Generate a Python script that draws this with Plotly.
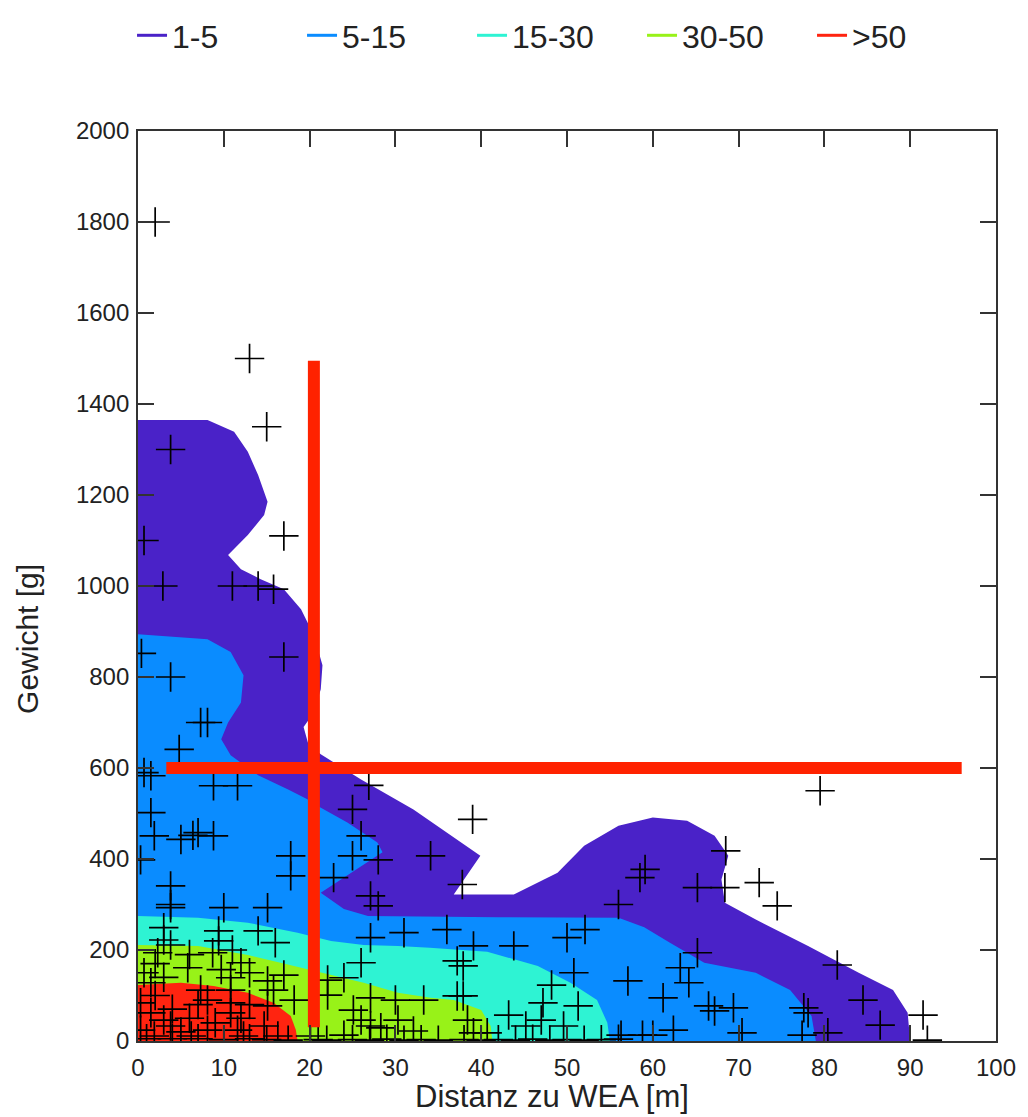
import plotly.graph_objects as go

# ---------------- data ----------------
level_names = ["1-5", "5-15", "15-30", "30-50", ">50"]
level_colors = ["#4A22C8", "#0A8CFF", "#2EF3D3", "#98F218", "#FF2410"]

# contour region outlines (Distanz [m], Gewicht [g])
c1_x = [0, 0, 8.1, 11.2, 12.8, 14.0, 15.1, 14.7, 12.8, 10.5, 12.0, 14.3, 17.0, 19.0, 20.5, 21.5,
        21.3, 20.5, 19.3, 19.8, 21.3, 26.0, 32.1, 39.9, 36.8, 43.8, 48.9, 52.0, 56.0, 60.0,
        64.0, 67.2, 68.8, 68.0, 68.4, 72.0, 78.1, 84.0, 88.0, 89.7, 90.0]
c1_y = [0, 1365, 1365, 1339, 1295, 1244, 1185, 1156, 1112, 1068, 1037, 1015, 993, 949, 892, 826,
        773, 722, 690, 656, 630, 575, 509, 407, 322, 322, 370, 429, 473, 491,
        484, 451, 407, 355, 304, 267, 209, 150, 112, 62, 0]

c2_x = [0, 0, 8.1, 10.8, 12.3, 12.0, 10.5, 9.7, 10.8, 14.0, 17.5, 19.8, 20.9, 24.4, 27.9, 28.5,
        21.3, 24.0, 26.8, 42.0, 56.0, 59.0, 62.0, 66.0, 72.0, 76.0, 78.5, 79.0]
c2_y = [0, 894, 883, 855, 804, 744, 700, 663, 628, 584, 553, 531, 517, 480, 436, 415,
        326, 290, 275, 272, 271, 250, 216, 172, 150, 112, 55, 0]

c3_x = [0, 0, 7.0, 12.8, 18.6, 22.5, 26.3, 30.3, 34.0, 40.7, 46.6, 50.4, 53.5, 54.7, 55.0]
c3_y = [0, 275, 271, 260, 238, 220, 211, 209, 205, 196, 165, 128, 90, 40, 0]

c4_x = [0, 0, 7.0, 12.8, 16.6, 22.5, 26.3, 30.3, 34.1, 36.8, 40.0, 41.1, 41.3]
c4_y = [0, 211, 209, 189, 172, 145, 128, 106, 95, 90, 68, 33, 0]

c5_x = [0, 0, 5.0, 8.8, 12.8, 15.8, 17.8, 18.4, 18.6]
c5_y = [0, 123, 128, 121, 106, 84, 55, 24, 0]

region_x = [c1_x, c2_x, c3_x, c4_x, c5_x]
region_y = [c1_y, c2_y, c3_y, c4_y, c5_y]

# individual finds (Distanz [m], Gewicht [g])
pts_x = [2, 13, 15, 3.8, 0.7, 17, 2.9, 11, 14, 15.8, 17, 0.4, 3.8, 7.3, 8.1, 4.8, 0.7, 1.5, 8.8, 11.6,
         1.5, 1.9, 5, 6.4, 7, 8.8, 17.8, 17.8, 0.3, 3.8, 3.8,
         26.9, 25, 26, 25, 28, 22.8, 34.1, 39, 37.8, 27.1, 28, 27.1, 31, 36, 39.1, 43.8, 50, 52.1, 56,
         79.5, 68.5, 59.1, 58.5, 65.2, 68.4, 72.4, 74.5, 65.2, 81.5, 63.2, 64.2, 50.8, 48.2, 57.1,
         47.2, 51.3, 61.2, 66.5, 67.2, 69.4, 77.6, 78.1, 84.5, 86.5, 91.5, 92, 77.4, 80.4, 70.4, 62.4,
         56.3, 58.8, 60, 43.2, 45.2, 37.2, 37.9, 37.2, 37.9, 33.3, 47, 49.6, 38.4, 39.1, 40.7,
         26, 22.1, 24, 22.1, 27.1, 30, 25.1, 26, 27.1, 28.3, 30.3, 32.1, 24,
         3.8, 10, 15.1, 3, 3, 2.3, 3.8, 9.4, 9.4, 8.7, 14, 16, 5.8, 0.7, 1.5, 9.7, 10.8, 10.8, 12,
         15.1, 17, 15.8, 18.2, 15.1, 7.3, 8.1, 10.8, 10.8, 0.3, 1.5, 3, 3.8, 0.3, 1.9, 6.2, 8.1,
         11.6, 12.3, 14.7, 16.3, 17.5, 20.1,
         2, 4, 5, 6, 7, 9, 12, 13, 2, 6, 1, 4, 7, 10, 13, 15, 3, 11, 13,
         21, 22, 25, 27, 29, 31, 33, 35, 38, 40, 42, 44, 46, 48, 50, 52, 54, 56]
pts_y = [1800, 1500, 1350, 1300, 1100, 1110, 1000, 1000, 1000, 993, 844, 852, 800, 700, 700, 641, 590, 583, 561, 561,
         502, 451, 443, 452, 458, 451, 407, 363, 398, 341, 300,
         562, 509, 451, 407, 398, 359, 407, 487, 344, 319, 297, 227, 238, 245, 209, 209, 227, 245, 300,
         550, 418, 377, 359, 337, 337, 348, 297, 194, 167, 161, 128, 150, 123, 132,
         84, 77, 95, 77, 66, 73, 73, 62, 90, 35, 57, 2, 13, 18, 18, 24,
         13, 13, 13, 57, 33, 176, 165, 99, 99, 90, 46, 33, 46, 18, 18,
         172, 134, 139, 101, 95, 90, 68, 46, 33, 29, 46, 22, 13,
         293, 293, 293, 249, 222, 194, 211, 242, 220, 194, 242, 216, 161, 150, 128, 157, 139, 112, 172,
         132, 145, 112, 90, 77, 112, 90, 84, 62, 84, 62, 46, 33, 24, 11, 11, 24,
         24, 11, 33, 11, 2, 11,
         100, 70, 20, 50, 80, 40, 50, 80, 170, 190, 5, 5, 5, 3, 5, 3, 140, 200, 150,
         3, 2, 3, 2, 4, 2, 3, 2, 3, 2, 3, 2, 4, 2, 3, 2, 3, 4]

# red threshold lines
thr_x = 20.5
thr_x_span = [30, 1495]
thr_y = 600
thr_y_span = [3.3, 96]

x_ticks = [0, 10, 20, 30, 40, 50, 60, 70, 80, 90, 100]
y_ticks = [0, 200, 400, 600, 800, 1000, 1200, 1400, 1600, 1800, 2000]

FONT = "Liberation Sans, Arial, Helvetica, sans-serif"

# ---------------- figure ----------------
fig = go.Figure()

for rx, ry, col in zip(region_x, region_y, level_colors):
    fig.add_trace(go.Scatter(x=rx, y=ry, mode="lines", fill="toself", fillcolor=col,
                             line=dict(width=0, color=col), showlegend=False, hoverinfo="skip"))

fig.add_trace(go.Scatter(x=pts_x, y=pts_y, mode="markers", showlegend=False,
                         marker=dict(symbol="cross-thin", size=21, color="black",
                                     line=dict(width=1.7, color="black"))))

fig.add_trace(go.Scatter(x=[thr_x, thr_x], y=thr_x_span, mode="lines", showlegend=False,
                         line=dict(color="#FF2200", width=12)))
fig.add_trace(go.Scatter(x=thr_y_span, y=[thr_y, thr_y], mode="lines", showlegend=False,
                         line=dict(color="#FF2200", width=12)))

for name, col in zip(level_names, level_colors):
    fig.add_trace(go.Scatter(x=[None], y=[None], mode="lines", name=name,
                             line=dict(color=col, width=3)))

axis_common = dict(showline=True, linecolor="#333", linewidth=1.8, mirror="ticks",
                   ticks="inside", ticklen=16, tickwidth=1.6, tickcolor="#333",
                   showgrid=False, zeroline=False,
                   tickfont=dict(family=FONT, size=24, color="#222"))

fig.update_layout(
    width=1020, height=1109,
    margin=dict(l=130, r=29, t=123, b=76),
    plot_bgcolor="white", paper_bgcolor="white",
    xaxis=dict(range=[0, 100], tickvals=x_ticks, ticklabelstandoff=4, **axis_common),
    yaxis=dict(range=[0, 2000], tickvals=y_ticks, ticklabelstandoff=2, **axis_common),
    legend=dict(orientation="h", xref="container", x=0.1216, xanchor="left",
                yref="container", y=1.0, yanchor="top",
                entrywidth=125, font=dict(family=FONT, size=32, color="#222"),
                bgcolor="rgba(0,0,0,0)"),
    annotations=[
        dict(text="Distanz zu WEA [m]", xref="paper", yref="paper", x=0.483, y=-0.0615,
             xanchor="center", yanchor="middle", showarrow=False,
             font=dict(family=FONT, size=31, color="#222")),
        dict(text="Gewicht [g]", xref="paper", yref="paper", x=-0.128, y=0.442,
             xanchor="center", yanchor="middle", textangle=-90, showarrow=False,
             font=dict(family=FONT, size=30, color="#222")),
    ],
)

fig.write_html("out.html")
